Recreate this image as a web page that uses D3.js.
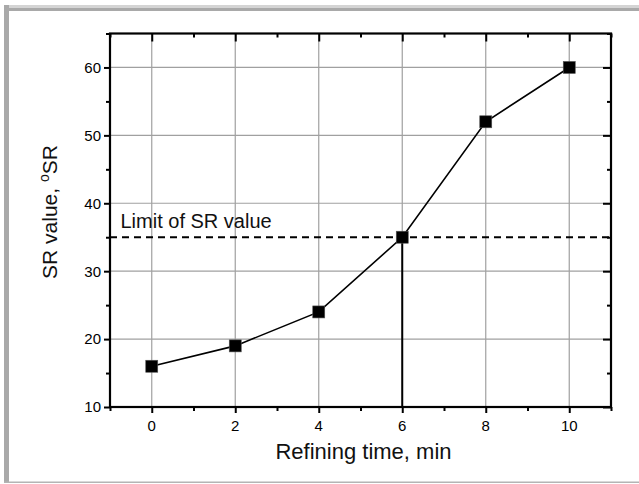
<!DOCTYPE html>
<html>
<head>
<meta charset="utf-8">
<script src="https://d3js.org/d3.v7.min.js"></script>
<style>
  body { margin: 0; background: #fff; }
  svg text { font-family: "Liberation Sans", Arial, sans-serif; }
  .tickLabel { font-size: 15px; fill: #000; }
</style>
</head>
<body>
<div id="chart"></div>
<script>
// Data
var refiningTime = [0, 2, 4, 6, 8, 10];
var srValue = [16, 19, 24, 35, 52, 60];
var limitValue = 35;
var limitTime = 6;
var xTicks = [0, 2, 4, 6, 8, 10];
var yTicks = [10, 20, 30, 40, 50, 60];

var svgWidth = 639;
var svgHeight = 484;

var margin = { top: 33.5, right: 28, bottom: 77, left: 110 };
var width = svgWidth - margin.left - margin.right;
var height = svgHeight - margin.top - margin.bottom;

var svg = d3.select("#chart")
  .append("svg")
  .attr("width", svgWidth)
  .attr("height", svgHeight);

// gray frame round the figure
svg.append("rect").attr("x", 4).attr("y", 5).attr("width", 640).attr("height", 3).attr("fill", "#d4d4d4");
svg.append("rect").attr("x", 4).attr("y", 8).attr("width", 640).attr("height", 3).attr("fill", "#a9a9a9");
svg.append("rect").attr("x", 4).attr("y", 5).attr("width", 5).attr("height", 478).attr("fill", "#a9a9a9");
svg.append("rect").attr("x", 4).attr("y", 481.5).attr("width", 640).attr("height", 1.5).attr("fill", "#b4b4b4");

var chartGroup = svg.append("g")
  .attr("transform", `translate(${margin.left}, ${margin.top})`);

var x = d3.scaleLinear().domain([-1, 11]).range([0, width]);
var y = d3.scaleLinear().domain([10, 65]).range([height, 0]);

// grid lines
chartGroup.append("g")
  .selectAll("line")
  .data(xTicks)
  .enter()
  .append("line")
  .attr("x1", d => x(d)).attr("x2", d => x(d))
  .attr("y1", 0).attr("y2", height)
  .attr("stroke", "#a0a0a0").attr("stroke-width", 1.2);

chartGroup.append("g")
  .selectAll("line")
  .data(yTicks.filter(d => d > 10))
  .enter()
  .append("line")
  .attr("y1", d => y(d)).attr("y2", d => y(d))
  .attr("x1", 0).attr("x2", width)
  .attr("stroke", "#a0a0a0").attr("stroke-width", 1.2);

// axes (tick marks from d3 axes, labels drawn below)
var xMinor = d3.range(-1, 12, 1).filter(d => xTicks.indexOf(d) < 0);
var yMinor = d3.range(15, 66, 10);

function styleAxis(g) {
  g.select(".domain").remove();
  g.selectAll("line").attr("stroke", "#000").attr("stroke-width", 2);
}

chartGroup.append("g")
  .attr("transform", `translate(0, ${height})`)
  .call(d3.axisBottom(x).tickValues(xTicks).tickSize(6).tickFormat(""))
  .call(styleAxis);
chartGroup.append("g")
  .attr("transform", `translate(0, ${height})`)
  .call(d3.axisBottom(x).tickValues(xMinor).tickSize(4).tickFormat(""))
  .call(styleAxis);

chartGroup.append("g")
  .call(d3.axisLeft(y).tickValues(yTicks).tickSize(6).tickFormat(""))
  .call(styleAxis);
chartGroup.append("g")
  .call(d3.axisLeft(y).tickValues(yMinor).tickSize(4).tickFormat(""))
  .call(styleAxis);

// top and right axes: ticks inward
chartGroup.append("g")
  .call(d3.axisBottom(x).tickValues(xTicks).tickSize(8).tickFormat(""))
  .call(styleAxis);
chartGroup.append("g")
  .call(d3.axisBottom(x).tickValues(xMinor).tickSize(4).tickFormat(""))
  .call(styleAxis);
chartGroup.append("g")
  .attr("transform", `translate(${width}, 0)`)
  .call(d3.axisLeft(y).tickValues(yTicks).tickSize(8).tickFormat(""))
  .call(styleAxis);
chartGroup.append("g")
  .attr("transform", `translate(${width}, 0)`)
  .call(d3.axisLeft(y).tickValues(yMinor).tickSize(4).tickFormat(""))
  .call(styleAxis);

// tick labels
chartGroup.selectAll(".xTickLabel")
  .data(xTicks)
  .enter()
  .append("text")
  .attr("class", "tickLabel xTickLabel")
  .attr("x", d => x(d))
  .attr("y", height + 24)
  .attr("text-anchor", "middle")
  .text(d => d);

chartGroup.selectAll(".yTickLabel")
  .data(yTicks)
  .enter()
  .append("text")
  .attr("class", "tickLabel yTickLabel")
  .attr("x", -9)
  .attr("y", d => y(d))
  .attr("dy", "0.36em")
  .attr("text-anchor", "end")
  .text(d => d);

// frame
chartGroup.append("rect")
  .attr("x", 0).attr("y", 0)
  .attr("width", width).attr("height", height)
  .attr("fill", "none").attr("stroke", "#000").attr("stroke-width", 2.2);

// limit line (dashed) and vertical drop
chartGroup.append("line")
  .attr("x1", 0).attr("x2", width)
  .attr("y1", y(limitValue)).attr("y2", y(limitValue))
  .attr("stroke", "#000").attr("stroke-width", 2)
  .attr("stroke-dasharray", "7,5");

chartGroup.append("line")
  .attr("x1", x(limitTime)).attr("x2", x(limitTime))
  .attr("y1", y(limitValue)).attr("y2", height)
  .attr("stroke", "#000").attr("stroke-width", 2);

chartGroup.append("text")
  .attr("x", 10.5)
  .attr("y", y(limitValue) - 9)
  .style("font-size", "20px")
  .attr("fill", "#111")
  .text("Limit of SR value");

// data line and markers
var points = refiningTime.map((t, i) => ({ t: t, v: srValue[i] }));

chartGroup.append("path")
  .datum(points)
  .attr("fill", "none")
  .attr("stroke", "#000")
  .attr("stroke-width", 1.6)
  .attr("d", d3.line().x(d => x(d.t)).y(d => y(d.v)));

chartGroup.selectAll(".marker")
  .data(points)
  .enter()
  .append("rect")
  .attr("class", "marker")
  .attr("x", d => x(d.t) - 6)
  .attr("y", d => y(d.v) - 6)
  .attr("width", 12)
  .attr("height", 12)
  .attr("fill", "#000")
  .attr("stroke", "#555")
  .attr("stroke-width", 0.6);

// axis labels
chartGroup.append("text")
  .attr("x", width / 2 + 3)
  .attr("y", height + 52)
  .attr("text-anchor", "middle")
  .style("font-size", "22px")
  .attr("fill", "#111")
  .text("Refining time, min");

var yLabel = chartGroup.append("text")
  .attr("transform", `translate(${57 - margin.left}, ${212 - margin.top}) rotate(-90)`)
  .attr("text-anchor", "middle")
  .style("font-size", "21px")
  .attr("fill", "#111");
yLabel.append("tspan").text("SR value, ");
yLabel.append("tspan").style("font-size", "14px").attr("dy", "-8").text("o");
yLabel.append("tspan").attr("dy", "8").text("SR");
</script>
</body>
</html>
